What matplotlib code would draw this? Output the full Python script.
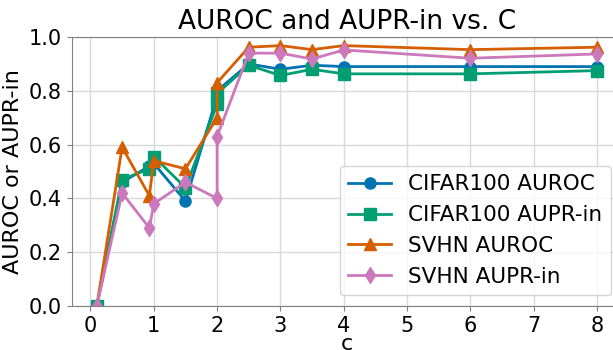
import numpy as np
import matplotlib
matplotlib.use('Agg')
import matplotlib.pyplot as plt

# ==========================================
# data
# ==========================================
c_values = [0.1, 0.5, 0.93, 1.0, 1.5, 2.0, 2.0, 2.5, 3.0, 3.5, 4.0, 6.0, 8.0]

cifar_auroc = [0.0, 0.46, 0.52, 0.53, 0.39, 0.78, 0.80, 0.90, 0.88, 0.895, 0.89, 0.89, 0.89]
cifar_aupr  = [0.0, 0.47, 0.51, 0.555, 0.44, 0.75, 0.79, 0.895, 0.857, 0.88, 0.863, 0.863, 0.875]
svhn_auroc  = [0.0, 0.59, 0.41, 0.54, 0.51, 0.70, 0.83, 0.962, 0.968, 0.953, 0.968, 0.953, 0.962]
svhn_aupr   = [0.0, 0.42, 0.29, 0.38, 0.46, 0.40, 0.63, 0.94, 0.94, 0.918, 0.952, 0.921, 0.937]

series = [
    ('CIFAR100 AUROC', cifar_auroc, '#0173B2', 'o'),
    ('CIFAR100 AUPR-in', cifar_aupr, '#029E73', 's'),
    ('SVHN AUROC', svhn_auroc, '#D55E00', '^'),
    ('SVHN AUPR-in', svhn_aupr, '#CC78BC', 'd'),
]

fig = plt.figure(figsize=(6.13, 3.5), dpi=100)
# axes runs a little past the right edge, like the cropped reference
ax = fig.add_axes([71.8 / 613, 1 - 306 / 350, (622 - 71.8) / 613, (306 - 37) / 350])

for label, vals, col, mk in series:
    ax.plot(c_values, vals, color=col, marker=mk, markersize=8, linewidth=2, label=label)

ax.set_ylim(0, 1.0)
ax.set_xticks(range(0, 9))
ax.set_title('AUROC and AUPR-in vs. C', fontsize=19)
ax.set_xlabel('c', fontsize=16, labelpad=-1)
ax.set_ylabel('AUROC or AUPR-in', fontsize=16)
ax.tick_params(labelsize=15, color='0.5')
for sp in ax.spines.values():
    sp.set_color('0.5')
ax.grid(True, color='0.85', linewidth=1)
ax.set_axisbelow(True)
ax.legend(loc='lower right', fontsize=15.5, handlelength=2)

plt.savefig('out.png', dpi=100)
